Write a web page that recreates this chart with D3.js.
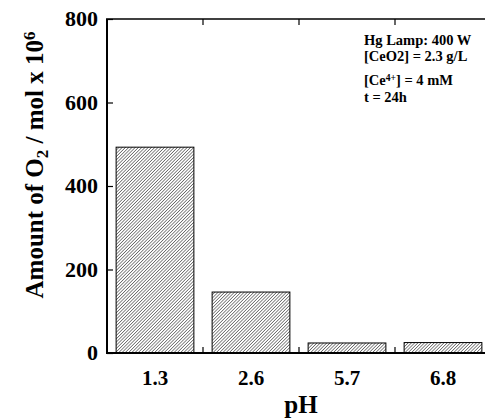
<!DOCTYPE html>
<html>
<head>
<meta charset="utf-8">
<script src="https://cdn.jsdelivr.net/npm/d3@7"></script>
<style>
  body { margin: 0; background: #fff; }
  text { font-family: "Liberation Serif", "Times New Roman", serif; font-weight: bold; fill: #000; }
</style>
</head>
<body>
<div id="chart"></div>
<script>
// data
var phLabels = ["1.3", "2.6", "5.7", "6.8"];
var o2Amount = [493, 146, 24, 25];
var yTicks = [0, 200, 400, 600, 800];
var notes = ["Hg Lamp: 400 W", "[CeO2] = 2.3 g/L", "[Ce4+] = 4 mM", "t = 24h"];

var svgWidth = 485;
var svgHeight = 419;

var margin = { top: 19, right: -6, bottom: 66, left: 107 };
var width = svgWidth - margin.left - margin.right;
var height = svgHeight - margin.top - margin.bottom;

var svg = d3.select("#chart")
  .append("svg")
  .attr("width", svgWidth)
  .attr("height", svgHeight);

// hatch pattern for bars
var defs = svg.append("defs");
var pat = defs.append("pattern")
  .attr("id", "hatch")
  .attr("patternUnits", "userSpaceOnUse")
  .attr("width", 2.3)
  .attr("height", 2.3)
  .attr("patternTransform", "rotate(45)");
pat.append("rect").attr("width", 2.3).attr("height", 2.3).attr("fill", "#fff");
pat.append("line")
  .attr("x1", 0).attr("y1", 0).attr("x2", 0).attr("y2", 2.3)
  .attr("stroke", "#222").attr("stroke-width", 1.05);

var chartGroup = svg.append("g")
  .attr("transform", `translate(${margin.left}, ${margin.top})`);

var xBand = d3.scaleBand()
  .domain(phLabels)
  .range([0, width])
  .paddingInner(0.19)
  .paddingOuter(0.095);

var yLinear = d3.scaleLinear()
  .domain([0, 800])
  .range([height, 0]);

// bars
chartGroup.selectAll("rect.bar")
  .data(o2Amount)
  .enter()
  .append("rect")
  .classed("bar", true)
  .attr("x", (d, i) => xBand(phLabels[i]))
  .attr("y", d => yLinear(d))
  .attr("width", xBand.bandwidth())
  .attr("height", d => height - yLinear(d))
  .attr("fill", "url(#hatch)")
  .attr("stroke", "#000")
  .attr("stroke-width", 1);

// left axis, ticks pointing inward
var leftAxis = d3.axisRight(yLinear)
  .tickValues(yTicks)
  .tickSize(6)
  .tickFormat("");
var yAxis = chartGroup.append("g").call(leftAxis);
yAxis.select(".domain").remove();
yAxis.selectAll(".tick line").attr("stroke-width", 1.2);
chartGroup.append("line")
  .attr("x1", 0).attr("x2", 0).attr("y1", 0).attr("y2", height)
  .attr("stroke", "#000").attr("stroke-width", 2);

chartGroup.selectAll("text.ylab")
  .data(yTicks)
  .enter()
  .append("text")
  .classed("ylab", true)
  .attr("x", -9)
  .attr("y", d => yLinear(d) + 7)
  .attr("text-anchor", "end")
  .style("font-size", "22px")
  .text(d => d);

// bottom and top lines with separators at band edges
var edges = phLabels.slice(1).map(p => xBand(p) - xBand.step() * xBand.paddingInner() / 2);

chartGroup.append("line")
  .attr("x1", -1).attr("x2", width).attr("y1", height).attr("y2", height)
  .attr("stroke", "#000").attr("stroke-width", 2);
chartGroup.append("line")
  .attr("x1", -1).attr("x2", width).attr("y1", 0).attr("y2", 0)
  .attr("stroke", "#000").attr("stroke-width", 1.6);

chartGroup.selectAll("line.btick")
  .data(edges)
  .enter()
  .append("line")
  .attr("x1", d => d).attr("x2", d => d)
  .attr("y1", height).attr("y2", height - 6)
  .attr("stroke", "#000").attr("stroke-width", 1.2);
chartGroup.selectAll("line.ttick")
  .data(edges)
  .enter()
  .append("line")
  .attr("x1", d => d).attr("x2", d => d)
  .attr("y1", 0).attr("y2", 6)
  .attr("stroke", "#000").attr("stroke-width", 1.2);

// x tick labels
chartGroup.selectAll("text.xlab")
  .data(phLabels)
  .enter()
  .append("text")
  .attr("x", d => xBand(d) + xBand.bandwidth() / 2)
  .attr("y", height + 32)
  .attr("text-anchor", "middle")
  .style("font-size", "21px")
  .text(d => d);

// axis titles
svg.append("text")
  .attr("x", 301)
  .attr("y", 413)
  .attr("text-anchor", "middle")
  .style("font-size", "25px")
  .text("pH");

var yTitle = svg.append("text")
  .attr("transform", "translate(43, 165) rotate(-90)")
  .attr("text-anchor", "middle")
  .style("font-size", "25px");
yTitle.append("tspan").text("Amount of O");
yTitle.append("tspan").attr("baseline-shift", "-30%").style("font-size", "17px").text("2");
yTitle.append("tspan").text(" / mol x 10");
yTitle.append("tspan").attr("baseline-shift", "45%").style("font-size", "17px").text("6");

// annotation block
var noteY = [45, 61, 85, 102];
var noteGroup = svg.append("g");
noteGroup.append("text").attr("x", 364).attr("y", noteY[0]).style("font-size", "14.5px").text(notes[0]);
noteGroup.append("text").attr("x", 364).attr("y", noteY[1]).style("font-size", "14.5px").text(notes[1]);
var ce = noteGroup.append("text").attr("x", 364).attr("y", noteY[2]).style("font-size", "14.5px");
ce.append("tspan").text("[Ce");
ce.append("tspan").attr("baseline-shift", "45%").style("font-size", "9.5px").text("4+");
ce.append("tspan").text("] = 4 mM");
noteGroup.append("text").attr("x", 364).attr("y", noteY[3]).style("font-size", "14.5px").text(notes[3]);
</script>
</body>
</html>
